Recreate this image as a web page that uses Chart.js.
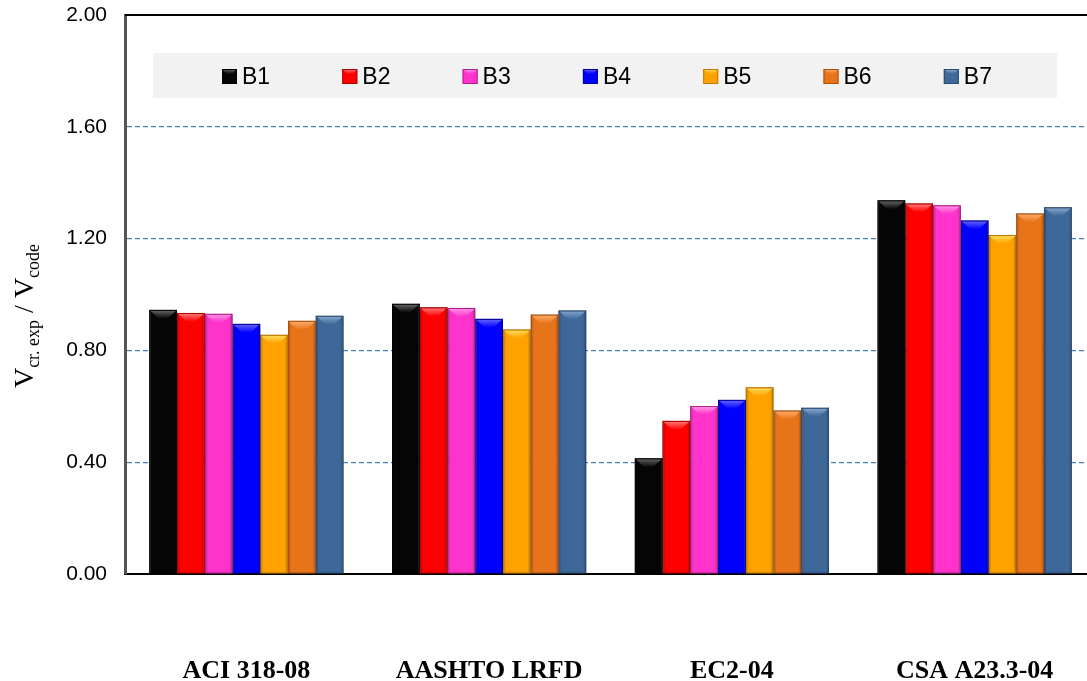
<!DOCTYPE html>
<html>
<head>
<meta charset="utf-8">
<script src="https://cdn.jsdelivr.net/npm/chart.js@4/dist/chart.umd.min.js"></script>
<style>
  html, body { margin: 0; padding: 0; background: #ffffff; overflow: hidden; }
  #wrap { width: 1087px; height: 681px; position: relative; overflow: hidden; }
  #chart { position: absolute; left: 0; top: 0; }
</style>
</head>
<body>
<div id="wrap"><canvas id="chart" width="1096" height="681"></canvas></div>
<script>
// Shear cracking ratio by design code, beams B1-B7
const categories = ['ACI 318-08', 'AASHTO LRFD', 'EC2-04', 'CSA A23.3-04'];
const seriesNames = ['B1', 'B2', 'B3', 'B4', 'B5', 'B6', 'B7'];
const B1 = [0.945, 0.967, 0.414, 1.337];
const B2 = [0.934, 0.954, 0.548, 1.326];
const B3 = [0.931, 0.952, 0.601, 1.319];
const B4 = [0.895, 0.913, 0.623, 1.265];
const B5 = [0.856, 0.875, 0.668, 1.213];
const B6 = [0.906, 0.928, 0.585, 1.290];
const B7 = [0.924, 0.943, 0.595, 1.312];
const yTicks = [0, 0.4, 0.8, 1.2, 1.6, 2.0];

const seriesValues = [B1, B2, B3, B4, B5, B6, B7];
const fills  = ['#050505', '#ff0000', '#ff33cc', '#0000ff', '#ffa200', '#e8741a', '#3e6899'];
const lights = ['#6a6a6a', '#ff8080', '#ff99e6', '#6a6aff', '#ffe060', '#ffb070', '#8aaad0'];
const edges  = ['#000000', '#b00000', '#b0208c', '#0000a0', '#c07800', '#a85210', '#2a4a70'];

const datasets = seriesNames.map((name, i) => ({
  label: name,
  data: seriesValues[i],
  backgroundColor: fills[i],
  borderColor: edges[i],
  borderWidth: 1,
  barPercentage: 1.0,
  categoryPercentage: 0.80
}));

// bevelled top + soft side shading on each bar
const bevelPlugin = {
  id: 'bevel',
  beforeDatasetDraw(chart) {
    const ctx = chart.ctx;
    ctx.save();
    ctx.shadowColor = 'rgba(0,0,0,0.28)';
    ctx.shadowBlur = 4;
    ctx.shadowOffsetX = 2;
    ctx.shadowOffsetY = 1;
  },
  afterDatasetDraw(chart, args) {
    const ctx = chart.ctx;
    ctx.restore();
    const i = args.index;
    args.meta.data.forEach(bar => {
      const p = bar.getProps(['x', 'y', 'width', 'base'], true);
      const l = p.x - p.width / 2, r = p.x + p.width / 2, t = p.y, b = p.base;
      const bv = Math.min(9, p.width * 0.32);
      ctx.save();
      const g = ctx.createLinearGradient(l, 0, r, 0);
      g.addColorStop(0, 'rgba(0,0,0,0.25)');
      g.addColorStop(0.12, 'rgba(0,0,0,0)');
      g.addColorStop(0.88, 'rgba(0,0,0,0)');
      g.addColorStop(1, 'rgba(0,0,0,0.25)');
      ctx.fillStyle = g;
      ctx.fillRect(l, t, r - l, b - t);
      const tg = ctx.createLinearGradient(0, t, 0, t + bv);
      tg.addColorStop(0, lights[i]);
      tg.addColorStop(1, fills[i]);
      ctx.fillStyle = tg;
      ctx.beginPath();
      ctx.moveTo(l + 1, t + 1);
      ctx.lineTo(r - 1, t + 1);
      ctx.lineTo(r - 1 - bv, t + bv);
      ctx.lineTo(l + 1 + bv, t + bv);
      ctx.closePath();
      ctx.fill();
      ctx.strokeStyle = edges[i];
      ctx.lineWidth = 1;
      ctx.strokeRect(l + 0.5, t + 0.5, r - l - 1, b - t - 1);
      ctx.restore();
    });
  }
};

// legend panel, top border and rotated axis title
const decorPlugin = {
  id: 'decor',
  afterDraw(chart) {
    const ctx = chart.ctx;
    const area = chart.chartArea;
    ctx.save();
    ctx.strokeStyle = '#000000';
    ctx.lineWidth = 2;
    ctx.beginPath();
    ctx.moveTo(area.left, area.top);
    ctx.lineTo(chart.width, area.top);
    ctx.stroke();

    // legend box
    ctx.fillStyle = '#f2f2f2';
    ctx.fillRect(153, 53, 904, 45);
    ctx.font = '23px "Liberation Sans", Arial, sans-serif';
    ctx.textBaseline = 'middle';
    ctx.textAlign = 'left';
    seriesNames.forEach((name, i) => {
      const mx = 222 + i * 120.3, my = 69, s = 15;
      ctx.fillStyle = fills[i];
      ctx.fillRect(mx, my, s, s);
      const tg = ctx.createLinearGradient(0, my, 0, my + 5);
      tg.addColorStop(0, lights[i]);
      tg.addColorStop(1, fills[i]);
      ctx.fillStyle = tg;
      ctx.beginPath();
      ctx.moveTo(mx, my); ctx.lineTo(mx + s, my);
      ctx.lineTo(mx + s - 5, my + 5); ctx.lineTo(mx + 5, my + 5);
      ctx.closePath(); ctx.fill();
      ctx.strokeStyle = edges[i];
      ctx.lineWidth = 1;
      ctx.strokeRect(mx + 0.5, my + 0.5, s - 1, s - 1);
      ctx.fillStyle = '#000000';
      ctx.fillText(name, mx + s + 5, my + s / 2 + 1);
    });

    // y-axis title: V_cr. exp / V_code
    const big = '28px "Liberation Serif", "Times New Roman", serif';
    const small = '18px "Liberation Serif", "Times New Roman", serif';
    const parts = [
      { t: 'V', f: big, dy: 0 },
      { t: 'cr. exp', f: small, dy: 6 },
      { t: ' / ', f: big, dy: 0 },
      { t: 'V', f: big, dy: 0 },
      { t: 'code', f: small, dy: 6 }
    ];
    let total = 0;
    parts.forEach(p => { ctx.font = p.f; p.w = ctx.measureText(p.t).width; total += p.w; });
    ctx.translate(33, 316);
    ctx.rotate(-Math.PI / 2);
    ctx.fillStyle = '#000000';
    ctx.textBaseline = 'alphabetic';
    let x = -total / 2;
    parts.forEach(p => { ctx.font = p.f; ctx.fillText(p.t, x, p.dy); x += p.w; });
    ctx.restore();
  }
};

new Chart(document.getElementById('chart'), {
  type: 'bar',
  data: { labels: categories, datasets },
  plugins: [bevelPlugin, decorPlugin],
  options: {
    responsive: false,
    animation: false,
    layout: { padding: { left: 0, right: 0, top: 15, bottom: 0 } },
    plugins: { legend: { display: false }, tooltip: { enabled: false } },
    scales: {
      x: {
        grid: { display: false, drawTicks: false },
        border: { display: true, color: '#000000', width: 2 },
        ticks: {
          color: '#000000',
          padding: 82,
          maxRotation: 0,
          font: { family: '"Liberation Serif", "Times New Roman", serif', size: 26, weight: 'bold' }
        },
        afterFit(scale) {
          scale.height = 107;
          scale.paddingLeft = 0;
          scale.paddingRight = 0;
        }
      },
      y: {
        min: 0,
        max: 2,
        afterBuildTicks(scale) { scale.ticks = yTicks.map(v => ({ value: v })); },
        grid: {
          drawTicks: false,
          color: ctx => (ctx.tick && (ctx.tick.value === 0 || ctx.tick.value === 2)) ? 'rgba(0,0,0,0)' : '#4a7ebb',
          lineWidth: 1.2
        },
        border: { display: true, color: '#555555', width: 3, dash: [5, 3] },
        ticks: {
          color: '#000000',
          padding: 18,
          callback: v => Number(v).toFixed(2),
          font: { family: '"Liberation Sans", Arial, sans-serif', size: 21 }
        },
        afterFit(scale) {
          scale.width = 125;
          scale.paddingTop = 0;
          scale.paddingBottom = 0;
        }
      }
    }
  }
});
</script>
</body>
</html>
